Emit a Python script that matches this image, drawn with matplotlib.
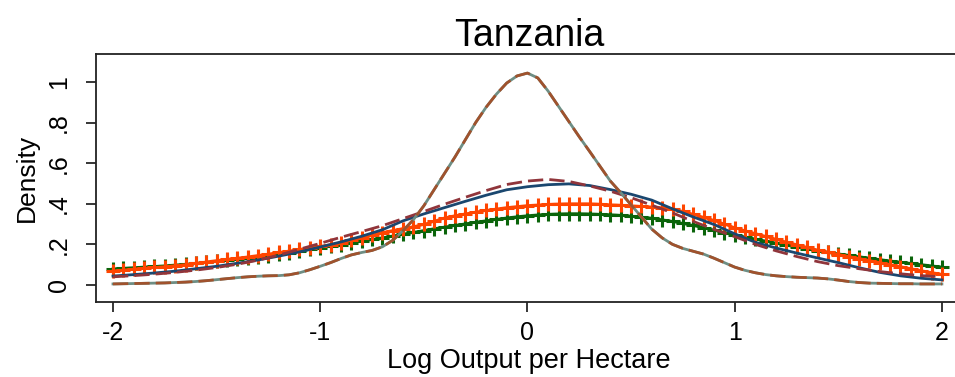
import numpy as np
import matplotlib
matplotlib.use("Agg")
from matplotlib import pyplot as plt

# evaluation grid for the kernel densities
x_fine = np.round(np.arange(-2.0, 2.0001, 0.05), 2)
x_coarse = np.round(np.arange(-2.0, 2.0001, 0.1), 2)

green_plus = [
    .079, .082, .085, .088, .091, .094, .098, .102, .106, .111, .116, .121, .126, .132,
    .138, .145, .152, .159, .167, .175, .183, .191, .199, .207, .216, .224, .232, .241,
    .250, .259, .268, .277, .285, .293, .301, .309, .316, .323, .330, .336, .341, .345,
    .348, .350, .351, .351, .350, .348, .346, .343, .339, .334, .329, .321, .313, .303,
    .293, .282, .270, .258, .247, .236, .226, .216, .206, .196, .187, .178, .169, .161,
    .153, .146, .139, .132, .125, .118, .112, .106, .100, .094, .088]

orange_plus = [
    .069, .073, .078, .082, .086, .090, .095, .100, .106, .113, .120, .126, .132, .138,
    .145, .152, .160, .167, .175, .182, .190, .198, .208, .220, .232, .245, .258, .268,
    .278, .287, .298, .314, .330, .341, .350, .359, .367, .374, .381, .386, .391, .394,
    .397, .399, .400, .400, .400, .398, .395, .393, .390, .387, .384, .380, .374, .362,
    .348, .333, .318, .300, .282, .267, .253, .239, .225, .211, .198, .185, .172, .161,
    .150, .140, .130, .120, .110, .100, .090, .080, .070, .061, .052]

navy_line = [
    .044, .051, .059, .068, .080, .092, .107, .123, .142, .163, .187, .212, .240, .272,
    .316, .350, .381, .412, .442, .469, .484, .494, .498, .490, .470, .447, .418, .375,
    .335, .298, .252, .210, .182, .157, .133, .110, .085, .062, .045, .033, .025]

maroon_dash = [
    .040, .046, .053, .062, .073, .086, .102, .122, .147, .176, .205, .235, .263, .292,
    .327, .362, .398, .432, .465, .495, .512, .520, .510, .488, .462, .430, .393, .355,
    .313, .274, .238, .200, .168, .140, .115, .095, .080, .066, .055, .046, .040]

narrow = [
    .005, .006, .007, .008, .009, .010, .012, .014, .017, .021, .026, .031, .036, .040,
    .043, .045, .046, .050, .060, .075, .092, .110, .130, .148, .160, .170, .188, .220,
    .268, .322, .390, .470, .550, .630, .715, .800, .875, .940, .995, 1.030, 1.044, 1.020,
    .955, .880, .805, .730, .658, .585, .512, .455, .395, .335, .275, .232, .200, .180,
    .166, .152, .132, .110, .088, .072, .060, .051, .045, .041, .038, .036, .034, .030,
    .024, .017, .012, .009, .008, .007, .006, .006, .005, .005, .005]

xticks = [-2, -1, 0, 1, 2]
yticks = [0, 0.2, 0.4, 0.6, 0.8, 1.0]
ytick_labels = ["0", ".2", ".4", ".6", ".8", "1"]

plt.rcParams['font.family'] = ['Liberation Sans', 'DejaVu Sans']
plt.rcParams['axes.unicode_minus'] = False

fig = plt.figure(figsize=(9.55, 3.77), dpi=100)
ax = fig.add_axes([96 / 955, 75 / 377, 866 / 955, 248 / 377])

lw = 2.0
dash = (5.5, 2.2)
ax.plot(x_fine, green_plus, color='#0a640a', lw=lw, marker='+', ms=10, mew=2.2)
ax.plot(x_fine, orange_plus, color='#ff4500', lw=lw, marker='+', ms=10, mew=2.2)
ax.plot(x_coarse, navy_line, color='#1a476f', lw=lw)
ax.plot(x_coarse, maroon_dash, color='#90353b', lw=lw, dashes=dash)
ax.plot(x_fine, narrow, color='#6e8e84', lw=lw)
ax.plot(x_fine, narrow, color='#a0522d', lw=lw, dashes=dash)

ax.set_xlim(-2.082, 2.097)
ax.set_ylim(-0.084, 1.138)
ax.set_xticks(xticks)
ax.set_yticks(yticks)
ax.set_yticklabels(ytick_labels, rotation=90, va='center')

ax.tick_params(axis='both', direction='out', length=7, width=1.1, colors='black', labelsize=18)
ax.tick_params(axis='x', pad=7)
ax.tick_params(axis='y', pad=11)

for side in ['left', 'bottom', 'top']:
    ax.spines[side].set_linewidth(1.3)
    ax.spines[side].set_color('#222222')
ax.spines['right'].set_visible(False)

ax.set_xlabel('Log Output per Hectare', fontsize=19.5, labelpad=2)
ax.set_ylabel('Density', fontsize=19, labelpad=6)
ax.set_title('Tanzania', fontsize=27, pad=6)

fig.savefig('out.png', dpi=100, facecolor='white')
